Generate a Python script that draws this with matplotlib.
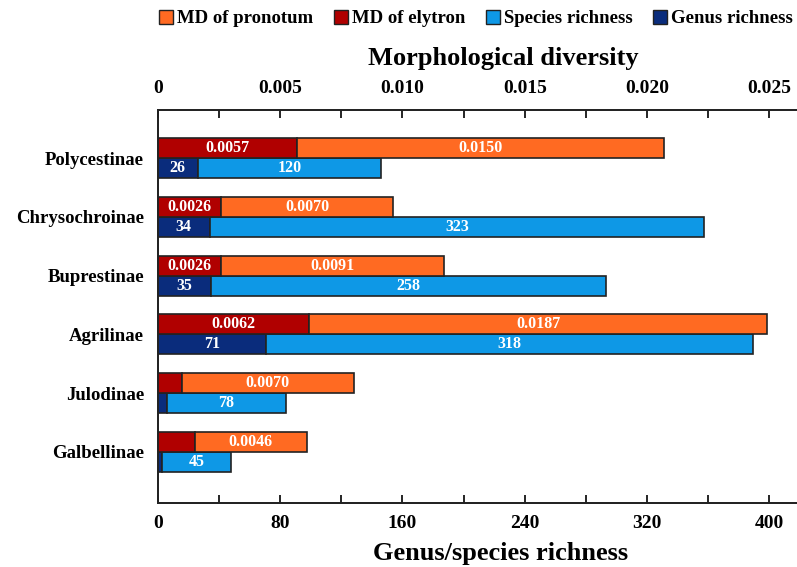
import matplotlib.pyplot as plt
from matplotlib.ticker import MultipleLocator
from matplotlib.patches import Patch

plt.rcParams['font.family'] = ['Liberation Serif', 'DejaVu Serif']
plt.rcParams['font.weight'] = 'bold'

# subfamilies, top to bottom
subfamilies = ['Polycestinae', 'Chrysochroinae', 'Buprestinae', 'Agrilinae', 'Julodinae', 'Galbellinae']
md_elytron = [0.0057, 0.0026, 0.0026, 0.0062, 0.0010, 0.0015]
md_pronotum = [0.0150, 0.0070, 0.0091, 0.0187, 0.0070, 0.0046]
genus_rich = [26, 34, 35, 71, 6, 3]
species_rich = [120, 323, 258, 318, 78, 45]
# which segments carry a value label
show_elytron = [True, True, True, True, False, False]
show_genus = [True, True, True, True, False, False]

c_pron = '#FF6A22'
c_elyt = '#B00000'
c_spec = '#0E98E6'
c_gen = '#0A2C7C'

fig = plt.figure(figsize=(7.97, 5.67), dpi=100)
ax = fig.add_axes([0.198, 0.113, 0.802, 0.693])
ax2 = ax.twiny()

n = len(subfamilies)
ypos = [n - 1 - i for i in range(n)]
h = 0.34
xmax = 418
md_max = xmax * 0.025 / 400

ec = '#222222'
lw = 1.2

# richness bars (bottom axis)
ax.barh([y - h / 2 for y in ypos], genus_rich, height=h, color=c_gen, edgecolor=ec, linewidth=lw)
ax.barh([y - h / 2 for y in ypos], species_rich, left=genus_rich, height=h, color=c_spec, edgecolor=ec, linewidth=lw)

# morphological diversity bars (top axis)
ax2.barh([y + h / 2 for y in ypos], md_elytron, height=h, color=c_elyt, edgecolor=ec, linewidth=lw)
ax2.barh([y + h / 2 for y in ypos], md_pronotum, left=md_elytron, height=h, color=c_pron, edgecolor=ec, linewidth=lw)

lbl = dict(color='white', fontsize=11.5, fontweight='bold', ha='center', va='center')
for i, y in enumerate(ypos):
    if show_genus[i]:
        ax.text(genus_rich[i] / 2, y - h / 2, str(genus_rich[i]), **lbl)
    ax.text(genus_rich[i] + species_rich[i] / 2, y - h / 2, str(species_rich[i]), **lbl)
    if show_elytron[i]:
        ax2.text(md_elytron[i] / 2, y + h / 2, f'{md_elytron[i]:.4f}', **lbl)
    ax2.text(md_elytron[i] + md_pronotum[i] / 2, y + h / 2, f'{md_pronotum[i]:.4f}', **lbl)

ax.set_xlim(0, xmax)
ax2.set_xlim(0, md_max)
ax.set_ylim(-0.87, n - 1 + 0.82)

ax.set_yticks(ypos)
ax.set_yticklabels(subfamilies, fontsize=13.5, fontweight='bold')
ax.tick_params(axis='y', length=0, pad=10)

ax.xaxis.set_major_locator(MultipleLocator(80))
ax.xaxis.set_minor_locator(MultipleLocator(40))
ax2.xaxis.set_major_locator(MultipleLocator(0.005))
ax2.xaxis.set_minor_locator(MultipleLocator(0.0025))
ax2.set_xticklabels(['0' if t == 0 else f'{t:.3f}' for t in ax2.get_xticks()])

for a in (ax, ax2):
    a.tick_params(axis='x', which='both', direction='in', length=6, width=1.2, labelsize=14, pad=9)
    a.spines['right'].set_visible(False)
    for s in ('left', 'top', 'bottom'):
        a.spines[s].set_linewidth(1.3)
        a.spines[s].set_color('#222222')
    for t in a.get_xticklabels():
        t.set_fontweight('bold')

ax.set_xlabel('Genus/species richness', fontsize=19, fontweight='bold')
ax2.set_xlabel('Morphological diversity', fontsize=19, fontweight='bold')
ax.xaxis.set_label_coords(0.537, -0.1)
ax2.xaxis.set_label_coords(0.54, 1.115)

handles = [Patch(facecolor=c_pron, edgecolor=ec), Patch(facecolor=c_elyt, edgecolor=ec),
           Patch(facecolor=c_spec, edgecolor=ec), Patch(facecolor=c_gen, edgecolor=ec)]
labels = ['MD of pronotum', 'MD of elytron', 'Species richness', 'Genus richness']
fig.legend(handles, labels, loc='center left', bbox_to_anchor=(0.2, 0.967), ncol=4,
           frameon=False, fontsize=13.5, handlelength=0.75, handleheight=0.75,
           handletextpad=0.2, columnspacing=1.1, borderaxespad=0, borderpad=0)

fig.savefig('out.png', dpi=100)
